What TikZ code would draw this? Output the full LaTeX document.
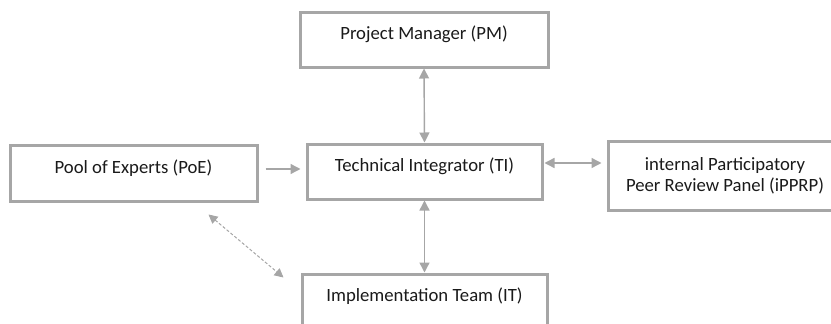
\documentclass[tikz,border=0pt]{standalone}
\usepackage{fontspec}
\setmainfont{Carlito}
\usetikzlibrary{arrows.meta,calc}
\definecolor{boxgray}{HTML}{A6A6A6}
\definecolor{linkgray}{HTML}{A6A6A6}
\definecolor{ink}{HTML}{1A1A1A}
\tikzset{
  unit/.style={draw=boxgray, line width=3pt, fill=white, rectangle,
    text=ink, font=\fontsize{18.7}{23}\selectfont,
    text height=12pt, text depth=12pt, inner sep=0pt},
  link/.style={draw=linkgray, line width=1.4pt,
    {Triangle[length=10pt,width=10pt]}-{Triangle[length=10pt,width=10pt]}},
  oneway/.style={draw=linkgray, line width=1.4pt,
    -{Triangle[length=10pt,width=10pt]}},
  loose/.style={draw=linkgray, line width=1pt, dash pattern=on 3pt off 2pt,
    {Triangle[length=9pt,width=9pt]}-{Triangle[length=9pt,width=9pt]}}
}
\begin{document}
\begin{tikzpicture}[x=1pt, y=-1pt]
  \useasboundingbox (0,0) rectangle (831,324);
  \clip (0,0) rectangle (831,324);

  % organisational units
  \node[unit, minimum width=248pt, minimum height=55pt] (pm) at (424,39.5) {Project Manager (PM)};
  \node[unit, minimum width=247pt, minimum height=56pt] (poe) at (133.5,173) {Pool of Experts (PoE)};
  \node[unit, minimum width=235pt, minimum height=55pt] (ti) at (424.5,171.5) {Technical Integrator (TI)};
  \node[unit, minimum width=234pt, minimum height=69pt, align=center,
        text height=, text depth=] (ipprp) at (725,175.5)
        {internal Participatory\\[-2pt]Peer Review Panel (iPPRP)};
  \node[unit, minimum width=245pt, minimum height=55pt] (it) at (424.5,301.5) {Implementation Team (IT)};

  % reporting and exchange lines
  \draw[link] (pm.south) -- (ti.north);
  \draw[link] (ti.south) -- (ti.south |- it.north);
  \draw[oneway, shorten <=7pt, shorten >=5pt]
    ([yshift=4pt]poe.east) -- ([yshift=4pt]poe.east -| ti.west);
  \draw[link, shorten <=1pt, shorten >=5pt]
    ([yshift=8.5pt]ti.east) -- ([yshift=8.5pt]ti.east -| ipprp.west);
  \draw[loose] ($(poe.south east)+(-50,12)$) -- ($(it.north west)+(-17,5)$);
\end{tikzpicture}
\end{document}
